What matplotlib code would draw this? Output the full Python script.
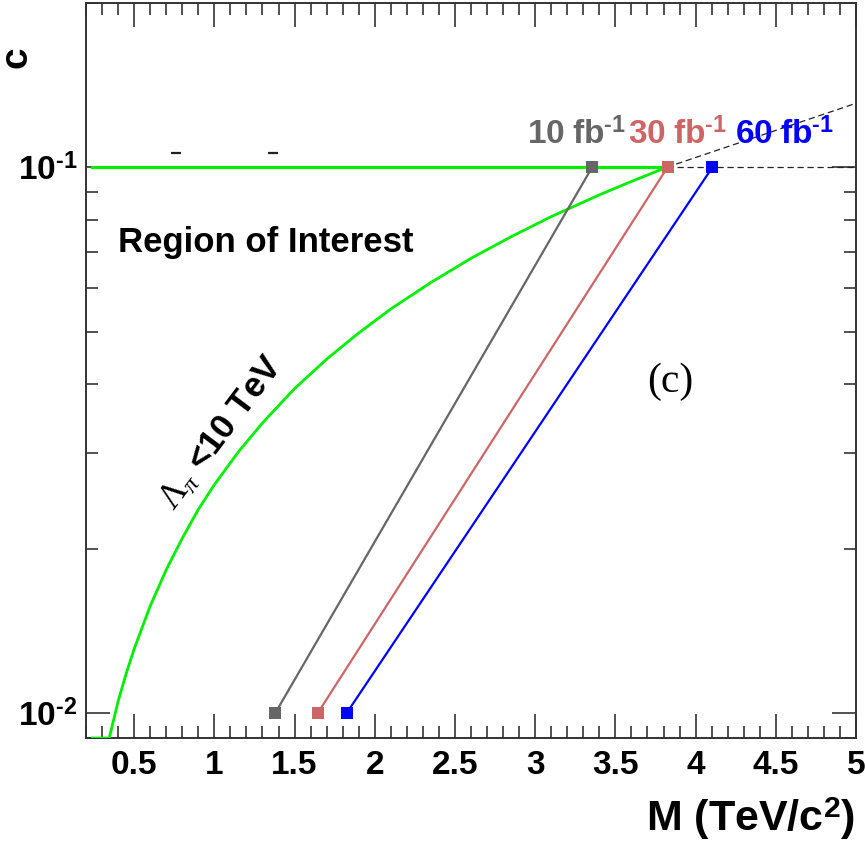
import matplotlib
matplotlib.use("Agg")
import matplotlib.pyplot as plt
from matplotlib.ticker import FixedLocator, FixedFormatter, MultipleLocator, LogLocator, NullFormatter

plt.rcParams['font.family'] = ['Liberation Sans', 'DejaVu Sans']
plt.rcParams['mathtext.fontset'] = 'custom'
plt.rcParams['mathtext.rm'] = 'Liberation Sans:bold'
plt.rcParams['mathtext.it'] = 'Liberation Serif:italic'
plt.rcParams['mathtext.bf'] = 'Liberation Sans:bold'
plt.rcParams['mathtext.sf'] = 'Liberation Sans'
plt.rcParams['mathtext.tt'] = 'Liberation Serif'

# --- data ---
# Lambda_pi < 10 TeV boundary (green)
bound_M = [0.24, 0.345, 0.4, 0.45, 0.5, 0.6, 0.7, 0.8, 0.9, 1.0, 1.15, 1.3, 1.5, 1.7, 1.9,
           2.1, 2.35, 2.6, 2.85, 3.1, 3.4, 3.6, 3.82]
bound_c = [0.009, 0.009, 0.0105, 0.0118, 0.0131, 0.0157, 0.0183, 0.0209, 0.0236, 0.0262,
           0.0301, 0.0340, 0.0393, 0.0445, 0.0497, 0.0550, 0.0615, 0.0681, 0.0746, 0.0812,
           0.0890, 0.0942, 0.1]
top_M = [0.24, 3.82]
top_c = [0.1, 0.1]
# dashed extensions (black)
ext_M = [3.82, 5.0]
ext_c = [0.1, 0.131]
hline_M = [3.82, 5.0]
hline_c = [0.1, 0.1]

# discovery reach lines for luminosities
lumi_labels = ['10 fb', '30 fb', '60 fb']
lumi_M_low = [1.38, 1.645, 1.825]
lumi_M_high = [3.355, 3.825, 4.105]
lumi_c_low = [0.01, 0.01, 0.01]
lumi_c_high = [0.1, 0.1, 0.1]
lumi_colors = ['#666666', '#cc6666', '#0000ff']

fig = plt.figure(figsize=(8.65, 8.41), dpi=100)
ax = fig.add_axes([86/865, (841-738)/841, (856-86)/865, (738-3)/841])
ax.set_xlim(0.2, 5.0)
ax.set_yscale('log')
ax.set_ylim(0.009, 0.2)

green = '#00ee00'
ax.plot(hline_M, hline_c, color='#222222', lw=0.9, ls=(0, (5, 3)), zorder=2)
ax.plot(ext_M, ext_c, color='#222222', lw=0.9, ls=(0, (5, 3)), zorder=2)
ax.plot(top_M, top_c, color=green, lw=2.3, zorder=3)
ax.plot(bound_M, bound_c, color=green, lw=2.0, zorder=3)

for m0, m1, c0, c1, col in zip(lumi_M_low, lumi_M_high, lumi_c_low, lumi_c_high, lumi_colors):
    ax.plot([m0, m1], [c0, c1], color=col, lw=1.6, marker='s', markersize=8.5,
            markeredgewidth=0, zorder=4)

# small stray marks near the top
ax.plot([0.76, 1.365], [0.106, 0.106], ls='none', marker='_', markersize=7,
        markeredgewidth=1.6, color='#222222')

SUP = r'^{\text{-}1}'

# texts
lab_x = [2.95, 3.58, 4.245]
for lab, x, col in zip(lumi_labels, lab_x, lumi_colors):
    ax.text(x, 0.1105, r'$\mathbf{%s}%s$' % (lab.replace(' ', r'\ '), SUP), color=col,
            fontsize=24, ha='left', va='baseline', zorder=5)

ax.text(0.40, 0.0698, 'Region of Interest', fontsize=25, fontweight='bold',
        ha='left', va='baseline')
ax.text(3.84, 0.0405, '(c)', fontsize=30, family='Liberation Serif',
        ha='center', va='center')
ax.text(1.045, 0.0325,
        r'$\mathtt{\Lambda}_{\mathit{\pi}}$ <10 TeV', fontsize=25, fontweight='bold',
        rotation=53, rotation_mode='anchor', ha='center', va='center')

# axes styling (ROOT-like)
for s in ax.spines.values():
    s.set_linewidth(1.4)
    s.set_color('#333333')

ax.xaxis.set_major_locator(MultipleLocator(0.5))
ax.xaxis.set_minor_locator(MultipleLocator(0.1))
ax.xaxis.set_major_formatter(plt.FuncFormatter(lambda v, p: '%g' % v))
ax.yaxis.set_major_locator(FixedLocator([0.01, 0.1]))
ax.yaxis.set_major_formatter(FixedFormatter([r'$\mathbf{10}^{\text{-}2}$',
                                             r'$\mathbf{10}^{\text{-}1}$']))
ax.yaxis.set_minor_locator(LogLocator(base=10, subs=[2, 3, 4, 5, 6, 7, 8, 9]))
ax.yaxis.set_minor_formatter(NullFormatter())

ax.tick_params(which='both', direction='in', top=True, right=True, color='#333333', width=1.2)
ax.tick_params(which='major', length=17)
ax.tick_params(which='minor', length=8.5)
ax.tick_params(axis='x', which='major', labelsize=24, pad=9)
ax.tick_params(axis='y', which='major', labelsize=24, pad=6)
for t in ax.get_xticklabels():
    t.set_fontweight('bold')

fig.text(855/865, (841-831)/841, r'M (TeV/c$^{\mathbf{2}}$)', fontsize=31, fontweight='bold',
         ha='right', va='baseline')
fig.text(17/865, 1-57/841, 'c', fontsize=28, fontweight='bold', rotation=90,
         ha='center', va='center')

fig.savefig('out.png', dpi=100)
